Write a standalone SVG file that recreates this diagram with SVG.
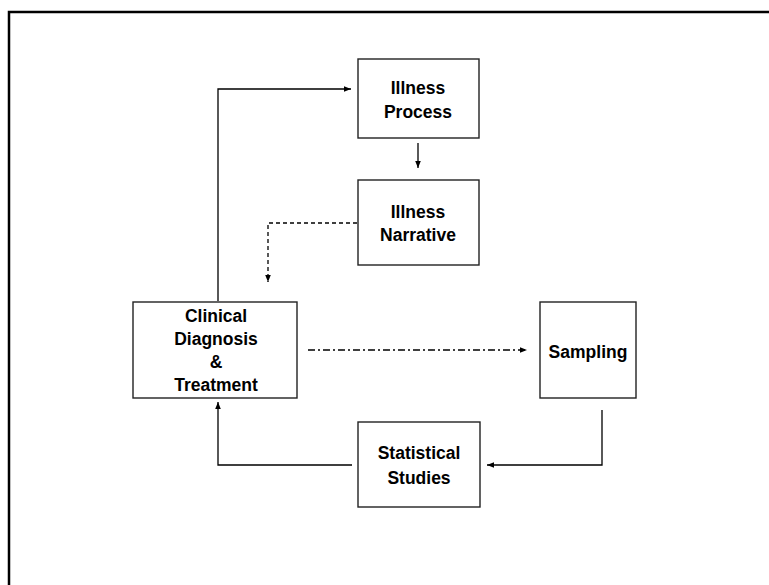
<svg xmlns="http://www.w3.org/2000/svg" width="769" height="585" viewBox="0 0 769 585">
<defs>
<marker id="ah" viewBox="0 0 10 10" refX="10" refY="5" markerWidth="7" markerHeight="7" markerUnits="userSpaceOnUse" orient="auto">
<path d="M0,1 L10,5 L0,9 z" fill="#000"/>
</marker>
<style>
.box{fill:#fff;stroke:#222;stroke-width:1.4}
.t{font-family:"Liberation Sans",Arial,sans-serif;font-weight:bold;font-size:17.5px;fill:#000;text-anchor:middle}
.c{fill:none;stroke:#000;stroke-width:1.3}
</style>
</defs>
<rect x="0" y="0" width="769" height="585" fill="#fff"/>
<rect x="9" y="12" width="800" height="620" fill="none" stroke="#000" stroke-width="2.5"/>
<g id="connectors">
<path class="c" d="M218,301 V89 H351" marker-end="url(#ah)"/>
<path class="c" d="M418,143 V168" marker-end="url(#ah)"/>
<path class="c" d="M357,223 H268 V282" stroke-dasharray="4 3" marker-end="url(#ah)"/>
<path class="c" d="M308,350 H527" stroke-dasharray="7 3 2 3" marker-end="url(#ah)"/>
<path class="c" d="M602,410 V465 H487" marker-end="url(#ah)"/>
<path class="c" d="M352,465 H218 V402" marker-end="url(#ah)"/>
</g>
<g id="illness-process">
<rect class="box" x="358" y="59" width="121" height="79"/>
<text class="t" x="418" y="94">Illness</text>
<text class="t" x="418" y="118">Process</text>
</g>
<g id="illness-narrative">
<rect class="box" x="358" y="180" width="121" height="85"/>
<text class="t" x="418" y="218">Illness</text>
<text class="t" x="418" y="241">Narrative</text>
</g>
<g id="clinical">
<rect class="box" x="133" y="302" width="164" height="96"/>
<text class="t" x="216" y="322">Clinical</text>
<text class="t" x="216" y="345">Diagnosis</text>
<text class="t" x="216" y="368">&amp;</text>
<text class="t" x="216" y="391">Treatment</text>
</g>
<g id="sampling">
<rect class="box" x="540" y="302" width="96" height="96"/>
<text class="t" x="588" y="358">Sampling</text>
</g>
<g id="statistical">
<rect class="box" x="358" y="422" width="122" height="85"/>
<text class="t" x="419" y="459">Statistical</text>
<text class="t" x="419" y="484">Studies</text>
</g>
</svg>
